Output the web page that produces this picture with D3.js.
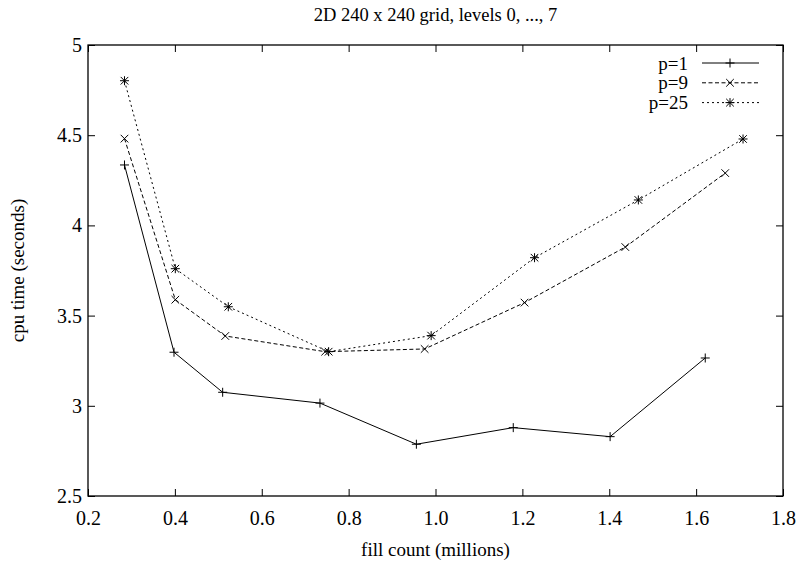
<!DOCTYPE html>
<html>
<head>
<meta charset="utf-8">
<script src="https://cdn.jsdelivr.net/npm/d3@7"></script>
<style>
  html, body { margin: 0; padding: 0; background: #fff; }
  svg { display: block; }
</style>
</head>
<body>
<svg id="chart" width="799" height="566"></svg>
<script>
const titleText = "2D 240 x 240 grid, levels 0, ..., 7";
const xLabel = "fill count (millions)";
const yLabel = "cpu time (seconds)";

const seriesNames = ["p=1", "p=9", "p=25"];

const x1 = [0.284, 0.398, 0.510, 0.734, 0.956, 1.179, 1.402, 1.621];
const y1 = [4.335, 3.297, 3.075, 3.015, 2.787, 2.879, 2.829, 3.265];
const x9 = [0.284, 0.401, 0.516, 0.746, 0.975, 1.205, 1.437, 1.667];
const y9 = [4.481, 3.588, 3.387, 3.300, 3.315, 3.572, 3.880, 4.290];
const x25 = [0.284, 0.401, 0.523, 0.754, 0.990, 1.228, 1.467, 1.708];
const y25 = [4.802, 3.760, 3.549, 3.300, 3.389, 3.821, 4.141, 4.479];

const xTicks = [0.2, 0.4, 0.6, 0.8, 1.0, 1.2, 1.4, 1.6, 1.8];
const yTicks = [2.5, 3, 3.5, 4, 4.5, 5];

const FONT = "'Liberation Serif', 'Times New Roman', serif";
const svg = d3.select("#chart");
const L = 88, R = 783, T = 45, B = 496;

const x = d3.scaleLinear().domain([0.2, 1.8]).range([L, R]);
const y = d3.scaleLinear().domain([2.5, 5]).range([B, T]);

const fs = 20;

const gx = svg.append("g").attr("transform", `translate(0,${B})`)
  .call(d3.axisBottom(x).tickValues(xTicks).tickFormat(d3.format(".1f")).tickSize(-7).tickSizeOuter(0).tickPadding(15));
const gxt = svg.append("g").attr("transform", `translate(0,${T})`)
  .call(d3.axisTop(x).tickValues(xTicks).tickFormat("").tickSize(-7).tickSizeOuter(0));
const gy = svg.append("g").attr("transform", `translate(${L},0)`)
  .call(d3.axisLeft(y).tickValues(yTicks).tickFormat(d3.format("")).tickSize(-7).tickSizeOuter(0).tickPadding(6));
const gyr = svg.append("g").attr("transform", `translate(${R},0)`)
  .call(d3.axisRight(y).tickValues(yTicks).tickFormat("").tickSize(-7).tickSizeOuter(0));

[gx, gxt, gy, gyr].forEach(g => {
  g.attr("font-family", null).attr("font-size", null);
  g.select(".domain").remove();
  g.selectAll(".tick line").attr("stroke", "#000").attr("stroke-width", 1);
  g.selectAll("text").style("font-family", FONT).style("font-size", fs + "px").attr("fill", "#000");
});

svg.append("rect").attr("x", L).attr("y", T).attr("width", R - L).attr("height", B - T)
  .attr("fill", "none").attr("stroke", "#000").attr("stroke-width", 1.3);

function txt(sel, size) { return sel.style("font-family", FONT).style("font-size", (size || fs) + "px").attr("fill", "#000"); }

txt(svg.append("text").attr("x", (L + R) / 2).attr("y", 21).attr("text-anchor", "middle"), 18.5).text(titleText);
txt(svg.append("text").attr("x", (L + R) / 2).attr("y", 556).attr("text-anchor", "middle"), 19).text(xLabel);
txt(svg.append("text").attr("transform", `translate(24,${(T + B) / 2}) rotate(-90)`).attr("text-anchor", "middle"), 19).text(yLabel);

function markerPath(type, cx, cy) {
  const p = d3.path();
  const h = 4.5, d = 3.8;
  if (type === "plus" || type === "star") {
    p.moveTo(cx - h, cy); p.lineTo(cx + h, cy);
    p.moveTo(cx, cy - h); p.lineTo(cx, cy + h);
  }
  if (type === "cross" || type === "star") {
    p.moveTo(cx - d, cy - d); p.lineTo(cx + d, cy + d);
    p.moveTo(cx - d, cy + d); p.lineTo(cx + d, cy - d);
  }
  return p.toString();
}

const series = [
  { name: seriesNames[0], xs: x1, ys: y1, dash: null, marker: "plus" },
  { name: seriesNames[1], xs: x9, ys: y9, dash: "4,2.5", marker: "cross" },
  { name: seriesNames[2], xs: x25, ys: y25, dash: "2,3", marker: "star" }
];

const line = d3.line().x(d => x(d[0])).y(d => y(d[1]));

series.forEach((s, i) => {
  const pts = s.xs.map((v, k) => [v, s.ys[k]]);
  svg.append("path").attr("d", line(pts)).attr("fill", "none").attr("stroke", "#000")
    .attr("stroke-width", 1).attr("stroke-dasharray", s.dash);
  svg.append("g").selectAll("path").data(pts).join("path")
    .attr("d", d => markerPath(s.marker, x(d[0]), y(d[1])))
    .attr("stroke", "#000").attr("stroke-width", 1).attr("fill", "none");

  const ly = 63 + i * 19.8;
  txt(svg.append("text").attr("x", 688).attr("y", ly).attr("dy", "0.35em").attr("text-anchor", "end"), 19).text(s.name);
  svg.append("line").attr("x1", 702).attr("x2", 759).attr("y1", ly).attr("y2", ly)
    .attr("stroke", "#000").attr("stroke-width", 1).attr("stroke-dasharray", s.dash);
  svg.append("path").attr("d", markerPath(s.marker, 730, ly)).attr("stroke", "#000").attr("stroke-width", 1);
});
</script>
</body>
</html>
